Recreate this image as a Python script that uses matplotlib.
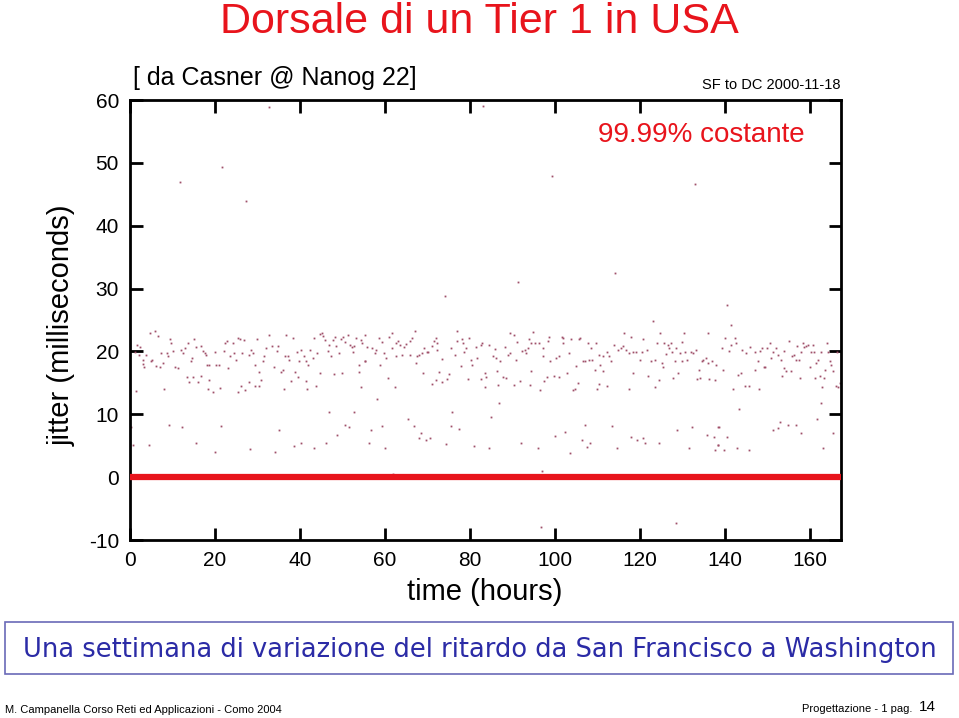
import numpy as np
import matplotlib
matplotlib.use("Agg")
import matplotlib.pyplot as plt
from matplotlib.patches import Rectangle

plt.rcParams["axes.unicode_minus"] = False

# jitter samples (hours, milliseconds)
hours = [
    1.7, 2.4, 4.6, 5.8, 6.6, 1.1, 2.1, 3.1, 3.8, 5.2, 3.1, 3.3, 4.9, 6.1, 7.0, 7.4, 7.8, 8.6, 8.9, 9.3,
    9.7, 10.1, 10.5, 11.3, 11.9, 12.5, 12.9, 13.7, 14.4, 14.7, 15.1, 15.6, 16.6, 17.2, 17.6, 17.9, 18.2, 18.7, 19.9, 20.3,
    20.9, 22.1, 22.4, 22.8, 23.1, 23.5, 24.2, 24.5, 24.9, 25.4, 25.8, 26.4, 26.8, 13.3, 13.9, 14.8, 16.0, 16.8, 18.7, 18.4,
    19.5, 21.1, 25.3, 26.2, 27.1, 1.3, 8.0, 9.1, 12.2, 21.3, 0.3, 0.7, 4.5, 15.6, 20.1,
    27.9, 28.5, 28.9, 30.0, 31.2, 31.6, 32.0, 32.6, 33.4, 34.0, 34.5, 34.8, 35.5, 35.9, 36.5, 36.7, 37.1, 37.5, 38.3, 38.9,
    39.3, 39.8, 40.2, 41.0, 41.3, 41.8, 42.4, 43.0, 43.4, 44.0, 44.7, 45.2, 45.5, 45.8, 46.5, 46.9, 47.3, 47.7, 47.9, 48.3,
    48.5, 49.1, 49.6, 49.9, 50.2, 50.7, 51.2, 51.8, 52.2, 52.4, 52.8, 53.2, 53.8, 54.0, 54.4, 54.7, 55.2, 55.4, 29.5, 30.3,
    30.8, 28.1, 29.3, 30.4, 37.9, 39.5, 41.4, 44.6, 43.8, 41.7, 36.3, 54.4, 46.8, 52.6, 35.0, 50.7, 51.5, 48.6, 46.1, 40.2,
    38.7, 43.4, 28.2, 34.2,
    55.8, 57.0, 57.6, 58.0, 58.6, 58.8, 59.4, 59.8, 60.2, 61.0, 61.7, 61.7, 62.5, 62.7, 63.1, 63.5, 64.1, 64.5, 64.9, 65.9,
    66.0, 66.4, 67.0, 67.2, 67.6, 68.0, 68.8, 69.2, 69.8, 70.2, 71.1, 71.5, 71.9, 72.3, 72.3, 73.3, 75.5, 76.4, 76.9, 77.0,
    78.2, 78.4, 78.6, 79.0, 79.8, 80.2, 80.5, 81.3, 81.7, 82.5, 82.9, 77.8, 69.0, 72.7, 75.1, 71.1, 71.9, 73.5, 74.7, 79.5,
    82.5, 60.6, 62.3, 58.2, 75.8, 65.4, 59.4, 66.8, 75.6, 77.4, 56.6, 68.5, 68.0, 69.6, 70.6, 56.2, 59.9, 74.3, 80.9, 55.2,
    61.9,
    89.5, 90.3, 84.4, 85.8, 85.3, 86.1, 87.1, 88.2, 88.9, 89.3, 90.8, 91.1, 92.2, 92.9, 93.2, 93.6, 94.0, 94.4, 94.8, 95.4,
    96.2, 97.1, 97.2, 98.4, 98.7, 98.9, 100.2, 101.0, 101.6, 102.0, 101.9, 103.2, 103.8, 105.0, 105.6, 106.0, 106.5, 107.1, 107.8, 108.1,
    108.5, 108.7, 109.6, 110.3, 110.7, 83.6, 83.8, 83.6, 86.3, 87.7, 88.5, 86.6, 90.4, 91.8, 94.2, 94.4, 96.4, 97.3, 98.1, 99.7,
    100.9, 102.8, 104.2, 104.6, 105.4, 109.3, 109.9, 110.3, 86.9, 85.0, 107.1, 100.1, 102.4, 92.1, 96.0, 84.5, 103.6, 106.3, 107.5, 108.3,
    97.0,
    123.1, 116.2, 118.0, 120.8, 124.7, 130.4, 136.1, 129.8, 113.9, 112.2, 111.4, 112.8, 113.2, 114.9, 115.5, 115.9, 116.7, 117.3, 118.4, 119.1,
    120.0, 120.4, 121.6, 122.7, 123.5, 123.9, 125.1, 125.5, 125.7, 126.1, 126.5, 126.9, 127.2, 127.5, 128.2, 128.5, 129.4, 130.0, 130.6, 131.1,
    131.9, 132.5, 133.2, 133.9, 134.5, 134.9, 135.5, 136.1, 136.9, 138.0, 111.4, 118.4, 122.0, 124.5, 129.0, 127.7, 133.5, 134.1, 136.3, 137.6,
    112.3, 117.5, 123.5, 113.3, 118.0, 119.4, 120.8, 121.2, 124.5, 128.8, 132.2, 135.7, 137.3, 138.4, 114.5, 131.6, 137.6, 138.4,
    141.3, 140.1, 142.4, 141.5, 139.3, 140.9, 142.7, 144.0, 145.0, 146.0, 147.0, 147.1, 147.8, 148.2, 148.7, 149.2, 149.5, 150.0, 150.5, 150.9,
    151.3, 152.1, 152.5, 153.1, 153.8, 154.0, 154.4, 155.0, 155.6, 155.8, 156.2, 156.8, 157.0, 157.3, 158.0, 158.4, 158.7, 159.1, 159.5, 159.9,
    160.3, 160.7, 160.9, 161.5, 161.9, 162.3, 162.7, 163.4, 163.6, 163.9, 164.2, 164.6, 164.9, 165.4, 166.4, 166.6, 167.0, 139.5, 143.0, 143.8,
    141.9, 144.6, 145.6, 147.9, 153.3, 157.6, 161.1, 162.8, 162.7, 166.2, 143.4, 161.6, 152.9, 152.5, 151.3, 154.8, 156.8, 158.0, 165.4, 138.5,
    140.5, 138.4, 139.8, 142.9, 145.6, 163.1,
    32.7, 83.1, 11.8, 21.6, 27.3, 99.3, 132.9, 74.1, 91.3, 114.1, 140.5, 96.7, 128.5,
]
jitter_ms = [
    21.1, 20.7, 22.9, 23.3, 22.5, 19.9, 19.5, 18.6, 19.4, 18.6, 18.0, 17.6, 18.4, 17.7, 17.6, 19.8, 18.2, 19.8, 19.2, 22.0,
    21.3, 20.1, 17.6, 17.3, 20.2, 19.8, 20.5, 21.3, 18.4, 18.9, 21.9, 20.7, 20.9, 20.1, 19.7, 19.4, 17.9, 17.8, 19.9, 17.8,
    17.9, 20.1, 21.4, 21.6, 17.4, 19.3, 21.3, 19.7, 18.6, 22.2, 22.0, 19.8, 21.8, 16.0, 15.2, 16.0, 15.2, 16.1, 15.4, 14.1,
    13.6, 14.2, 13.6, 14.5, 13.9, 13.7, 14.0, 8.3, 8.0, 8.2, 8.0, 5.1, 5.1, 5.5, 4.0,
    19.4, 20.2, 19.8, 21.9, 18.4, 19.2, 20.5, 22.6, 20.9, 17.5, 20.1, 20.9, 16.8, 17.0, 19.3, 22.6, 19.2, 18.6, 22.2, 16.8,
    19.9, 18.5, 20.2, 19.3, 18.4, 17.8, 20.2, 18.9, 22.2, 19.7, 22.7, 23.0, 22.4, 21.8, 20.1, 21.0, 19.2, 21.8, 16.4, 22.3,
    20.8, 19.7, 21.9, 16.6, 22.3, 21.5, 22.6, 21.0, 20.7, 19.9, 20.8, 22.2, 17.8, 16.8, 21.8, 21.3, 22.6, 18.4, 17.8, 16.8,
    15.4, 15.2, 14.5, 14.5, 15.3, 16.0, 15.3, 16.6, 14.5, 14.0, 14.0, 14.3, 10.3, 10.4, 7.5, 8.3, 8.0, 6.7, 5.5, 5.5,
    4.9, 4.7, 4.4, 4.0,
    20.7, 20.5, 19.8, 20.2, 22.1, 17.8, 21.5, 19.7, 18.9, 22.3, 23.0, 20.6, 19.3, 21.3, 21.6, 21.0, 19.5, 20.7, 21.2, 21.7,
    19.5, 22.1, 23.3, 18.2, 19.2, 19.5, 19.7, 20.5, 19.9, 19.9, 20.8, 21.6, 22.1, 21.3, 20.3, 18.8, 20.6, 19.4, 23.3, 21.7,
    21.9, 21.3, 19.9, 20.5, 22.1, 18.7, 17.8, 20.7, 18.9, 21.0, 21.3, 17.7, 16.6, 16.8, 16.4, 14.8, 15.4, 15.2, 15.6, 15.6,
    15.6, 15.7, 14.3, 12.5, 10.3, 9.3, 8.1, 8.1, 8.1, 7.7, 7.5, 7.0, 6.3, 5.9, 6.2, 5.5, 4.6, 5.2, 5.0, 18.4,
    0.5,
    23.0, 22.6, 21.1, 20.4, 19.3, 18.9, 18.4, 20.7, 19.5, 19.8, 18.6, 21.5, 20.1, 20.3, 19.7, 20.6, 21.9, 21.3, 23.1, 21.4,
    21.4, 20.6, 19.3, 21.7, 22.3, 18.5, 18.9, 19.2, 22.3, 22.2, 21.3, 19.7, 21.9, 17.7, 21.9, 22.1, 18.4, 18.5, 21.3, 18.6,
    20.6, 18.7, 21.3, 19.4, 17.8, 16.6, 16.0, 14.3, 16.9, 16.0, 15.7, 14.6, 14.6, 15.3, 14.6, 16.9, 13.9, 15.3, 15.9, 16.1,
    15.9, 16.6, 13.9, 14.0, 15.0, 17.1, 14.0, 14.8, 11.8, 9.5, 8.3, 6.6, 7.2, 5.4, 4.6, 4.7, 3.9, 5.9, 4.8, 5.4,
    0.9,
    24.8, 22.9, 22.3, 21.9, 22.9, 22.9, 22.9, 21.5, 21.1, 19.9, 19.2, 19.3, 18.5, 20.2, 20.6, 20.8, 20.3, 19.8, 19.9, 19.9,
    18.7, 19.9, 20.3, 18.4, 18.7, 21.3, 18.2, 17.6, 21.3, 19.6, 21.1, 20.6, 21.4, 19.9, 18.5, 20.5, 19.8, 18.4, 19.9, 18.7,
    19.9, 19.7, 20.3, 17.0, 18.4, 18.6, 18.9, 18.2, 18.4, 17.8, 16.9, 16.5, 16.1, 15.4, 16.5, 15.7, 15.6, 15.7, 15.6, 15.4,
    14.5, 14.1, 14.3, 8.1, 6.4, 5.9, 6.2, 5.4, 5.5, 7.5, 7.9, 6.7, 6.4, 8.0, 4.6, 4.6, 4.3, 5.1,
    24.2, 22.2, 22.1, 21.0, 20.5, 20.1, 21.4, 20.3, 19.8, 20.7, 19.9, 17.0, 18.4, 20.1, 20.5, 17.6, 17.6, 20.6, 21.3, 18.9,
    19.9, 20.5, 19.4, 18.7, 20.1, 17.3, 16.9, 21.7, 16.9, 19.3, 19.4, 18.7, 20.8, 18.6, 19.9, 21.4, 20.7, 20.8, 21.0, 17.5,
    19.9, 21.0, 19.9, 18.1, 18.7, 16.1, 19.9, 15.7, 17.1, 21.4, 19.9, 18.4, 17.8, 16.9, 19.9, 14.4, 15.0, 17.0, 16.3, 16.5,
    14.0, 14.5, 14.5, 14.1, 16.1, 15.7, 15.7, 14.4, 11.8, 14.5, 10.8, 9.3, 8.7, 7.8, 7.5, 8.3, 8.3, 7.0, 7.0, 8.0,
    6.4, 5.1, 4.3, 4.7, 4.3, 4.6,
    58.9, 59.0, 46.9, 49.3, 43.9, 47.9, 46.6, 28.8, 31.0, 32.5, 27.4, -8.0, -7.3,
]
x_ticks = [0, 20, 40, 60, 80, 100, 120, 140, 160]
y_ticks = [-10, 0, 10, 20, 30, 40, 50, 60]
baseline_ms = 0  # 99.99% of samples

RED = "#e8141c"
BLUE = "#2b2ba6"
SANS = ["Liberation Sans", "DejaVu Sans"]

fig = plt.figure(figsize=(9.59, 7.18), dpi=100)
fig.patch.set_facecolor("white")

ax = fig.add_axes([130 / 959, 1 - 540 / 718, 711 / 959, 440 / 718])
ax.plot(hours, jitter_ms, linestyle="none", marker="s", markersize=1.3,
        markeredgewidth=0, color="#a0506a")
ax.axhline(baseline_ms, color=RED, lw=4.5, zorder=3)

ax.set_xlim(0, 167.3)
ax.set_ylim(-10, 60)
ax.set_xticks(x_ticks)
ax.set_yticks(y_ticks)
ax.tick_params(direction="in", length=9, width=2, top=True, right=True,
               labelsize=15, pad=8)
for lab in ax.get_xticklabels() + ax.get_yticklabels():
    lab.set_fontfamily(SANS)
for sp in ax.spines.values():
    sp.set_linewidth(2)

ax.text(134.5, 54.4, "99.99% costante", color=RED, fontsize=20,
        family=SANS, ha="center", va="center")

# slide texts
fig.text(0.5, 0.969, "Dorsale di un Tier 1 in USA", color=RED, fontsize=31,
         family=SANS, ha="center", va="center")
fig.text(133 / 959, 1 - 78 / 718, "[ da Casner @ Nanog 22]", fontsize=18,
         family=SANS, ha="left", va="center")
fig.text(840 / 959, 1 - 85 / 718, "SF to DC 2000-11-18", fontsize=10.5,
         family=SANS, ha="right", va="center")
fig.text(62 / 959, 1 - 325 / 718, "jitter (milliseconds)", fontsize=21,
         family=SANS, rotation=90, ha="center", va="center")
fig.text(485 / 959, 1 - 592 / 718, "time (hours)", fontsize=21,
         family=SANS, ha="center", va="center")

fig.patches.append(Rectangle((5 / 959, 1 - 674 / 718), 948 / 959, 52 / 718,
                             transform=fig.transFigure, fill=False,
                             edgecolor="#6a6ab8", lw=1.2))
fig.text(480 / 959, 1 - 650 / 718,
         "Una settimana di variazione del ritardo da San Francisco a Washington",
         color=BLUE, fontsize=18.5, family="DejaVu Sans", ha="center", va="center")

fig.text(5 / 959, 1 - 710 / 718,
         "M. Campanella Corso Reti ed Applicazioni - Como 2004",
         fontsize=8, family=SANS, ha="left", va="center")
fig.text(912 / 959, 1 - 709 / 718, "Progettazione - 1 pag.",
         fontsize=8, family=SANS, ha="right", va="center")
fig.text(919 / 959, 1 - 707 / 718, "14",
         fontsize=11, family=SANS, ha="left", va="center")

fig.savefig("out.png", dpi=100)
